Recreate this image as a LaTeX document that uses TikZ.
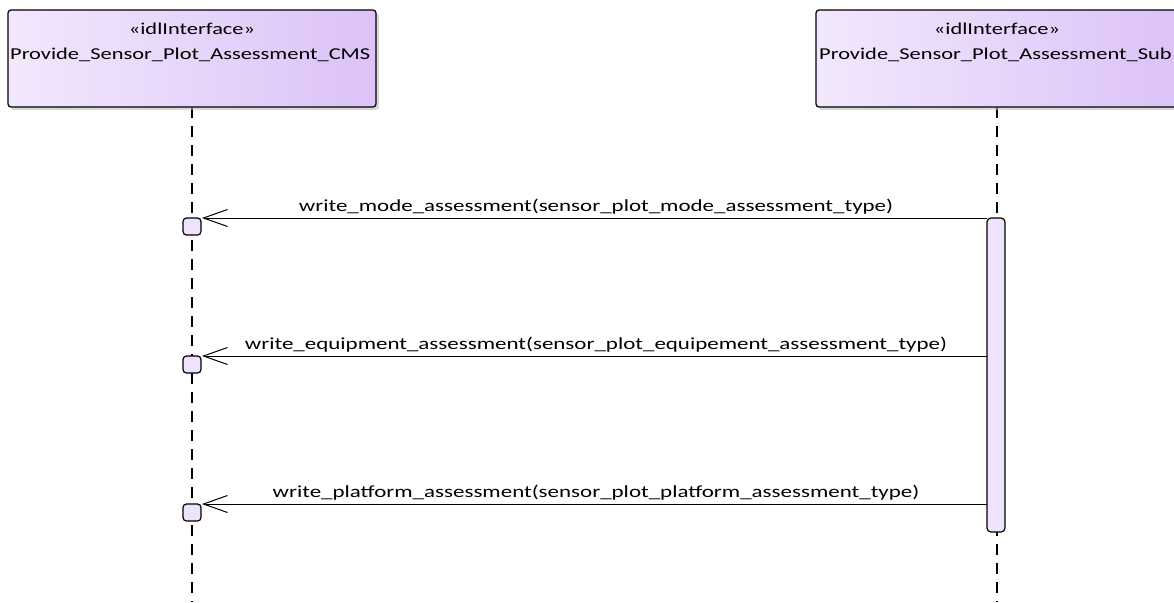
\documentclass[tikz,border=0pt]{standalone}
\usepackage{fontspec}
\setmainfont[FakeStretch=1.35]{Carlito}
\usetikzlibrary{arrows.meta,shadows}
\definecolor{boxL}{HTML}{F2E8FC}
\definecolor{boxR}{HTML}{DCC2F8}
\definecolor{actfill}{HTML}{EEE2FC}
\tikzset{
  lifebox/.style={draw=black, line width=1.2pt, rounded corners=3pt, left color=boxL, right color=boxR,
    drop shadow={shadow xshift=3pt, shadow yshift=-3pt, fill=black!25, opacity=0.6}},
  lifeline/.style={draw=black, line width=1.2pt, dash pattern=on 11pt off 8pt},
  actbar/.style={draw=black, line width=1.2pt, fill=actfill, rounded corners=4pt},
  recvbox/.style={actbar, rounded corners=3.5pt, minimum width=18pt, minimum height=17pt, inner sep=0pt},
  msg/.style={draw=black, line width=1pt, -{Straight Barb[length=24pt,width=17pt,line width=1pt]}},
  msglabel/.style={font=\fontsize{17}{20}\selectfont, anchor=base},
  boxtext/.style={font=\fontsize{16.6}{20}\selectfont}
}
\begin{document}
\begin{tikzpicture}[x=1pt,y=-1pt]
\useasboundingbox (0,0) rectangle (1174,602);
\fill[white] (0,0) rectangle (1174,602);
% lifelines
\coordinate (lA) at (192,107);
\coordinate (lAe) at (192,602);
\coordinate (lB) at (997,107);
\coordinate (lBe) at (997,602);
\draw[lifeline] (lA) -- (lAe);
\draw[lifeline] (lB) -- (lBe);
% header boxes
\path[lifebox] (8,10) rectangle (376,107);
\path[lifebox] (816,10) rectangle (1180,107);
\node[boxtext] (stA) at (192,29) {«idlInterface»};
\node[boxtext, anchor=west, inner sep=0pt] (nmA) at (10,55) {Provide\_Sensor\_Plot\_Assessment\_CMS};
\node[boxtext] (stB) at (997,29) {«idlInterface»};
\node[boxtext, anchor=west, inner sep=0pt] (nmB) at (819,55) {Provide\_Sensor\_Plot\_Assessment\_Sub};
% activation bar
\node[actbar, minimum width=18pt, minimum height=314pt, inner sep=0pt] (act) at (996,375) {};
% receive boxes
\node[recvbox] (r1) at (192,226.5) {};
\node[recvbox] (r2) at (192,364.5) {};
\node[recvbox] (r3) at (192,512.5) {};
% messages
\coordinate (s1) at (987,218);
\coordinate (t1) at (202,218);
\coordinate (s2) at (987,356);
\coordinate (t2) at (202,356);
\coordinate (s3) at (987,504);
\coordinate (t3) at (202,504);
\draw[msg] (s1) -- (t1);
\draw[msg] (s2) -- (t2);
\draw[msg] (s3) -- (t3);
\node[msglabel] (m1) at (596,211) {write\_mode\_assessment(sensor\_plot\_mode\_assessment\_type)};
\node[msglabel] (m2) at (596,349) {write\_equipment\_assessment(sensor\_plot\_equipement\_assessment\_type)};
\node[msglabel] (m3) at (596,497) {write\_platform\_assessment(sensor\_plot\_platform\_assessment\_type)};
\end{tikzpicture}
\end{document}
